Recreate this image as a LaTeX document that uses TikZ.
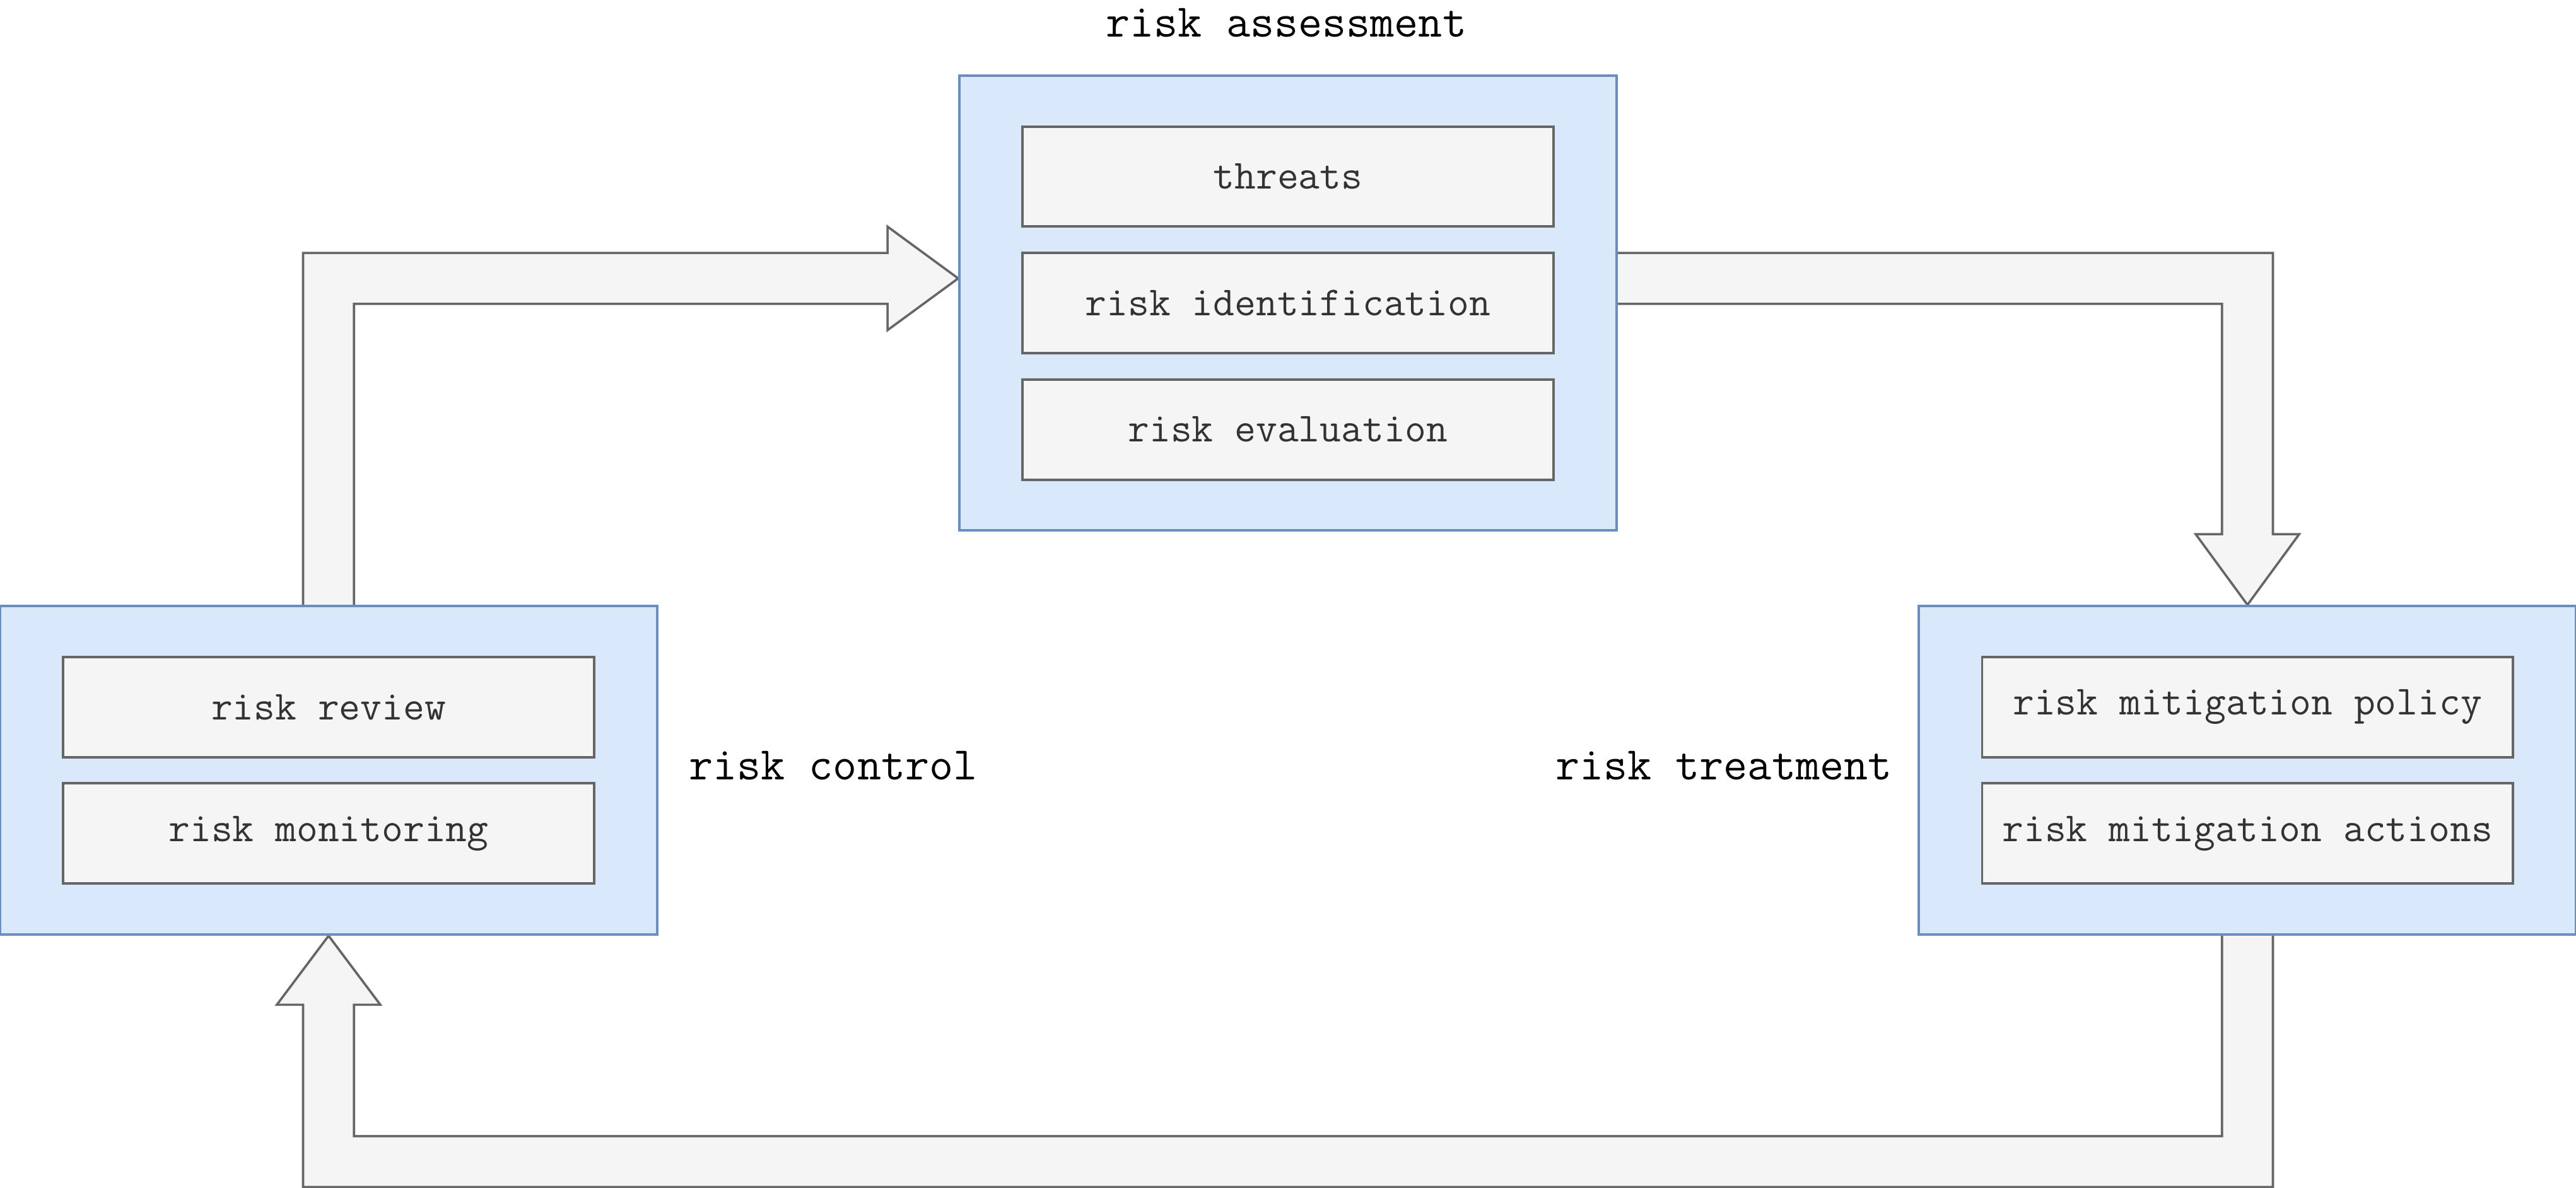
\documentclass[tikz,border=0pt]{standalone}
\usepackage{tikz}
\usetikzlibrary{calc,positioning,backgrounds}
\definecolor{groupfill}{HTML}{DAE8FC}
\definecolor{groupline}{HTML}{6C8EBF}
\definecolor{itemfill}{HTML}{F5F5F5}
\definecolor{itemline}{HTML}{666666}
\definecolor{itemtext}{HTML}{333333}
\tikzset{
  group/.style={draw=groupline, fill=groupfill, line width=0.75pt, minimum width=200pt, inner sep=0pt},
  item/.style={draw=itemline, fill=itemfill, line width=0.75pt, minimum width=161.5pt, minimum height=30.5pt, inner sep=0pt,
    text=itemtext, font=\ttfamily\fontsize{12.6}{14}\selectfont},
  grouplabel/.style={inner sep=0pt, font=\ttfamily\fontsize{14.2}{16}\selectfont},
  flow/.style={draw=itemline, fill=itemfill, line width=0.7pt, line join=miter}
}
\begin{document}
\begin{tikzpicture}[x=0.5pt, y=-0.5pt]
			%%%%% START %%%%%
			\useasboundingbox (0, 0) rectangle (1568, 723.3);
			
			\node[group, minimum height=138.5pt] (assess) at (784, 184.5) {};
			\node[item] (ident) at (assess) {risk identification};
			\node[item, above=7.25pt of ident] (threats) {threats};
			\node[item, below=7.25pt of ident] (eval) {risk evaluation};
			\node[grouplabel] (assesslabel) at (783, 14) {risk assessment};
			
			\node[group, minimum height=100pt] (control) at (200, 469) {};
			\node[item] (review) at ($(control)+(0, -38.5)$) {risk review};
			\node[item, below=7.25pt of review] (monitor) {risk monitoring};
			\node[grouplabel, anchor=west] (controllabel) at (419, 466) {risk control};
			
			\node[group, minimum height=100pt] (treat) at (1368, 469) {};
			\node[item] (policy) at ($(treat)+(0, -38.5)$) {risk mitigation policy};
			\node[item, below=7.25pt of policy] (actions) {risk mitigation actions};
			\node[grouplabel, anchor=east] (treatlabel) at (1152, 466) {risk treatment};
			
			\coordinate (a1s) at (control.north);
			\coordinate (a1e) at ($(assess.west)+(0, -15)$);
			\coordinate (a2s) at ($(assess.east)+(0, -15)$);
			\coordinate (a2e) at (treat.north);
			\coordinate (a3s) at (treat.south);
			\coordinate (a3e) at (control.south);
			
			\begin{scope}[on background layer]
			% control -> assessment
			\draw[flow] ($(a1s)+(-15.5, 0)$) -- ($(a1s |- a1e)+(-15.5, -15.5)$) -- ($(a1e)+(-43, -15.5)$)
				-- ($(a1e)+(-43, -31.5)$) -- (a1e) -- ($(a1e)+(-43, 31.5)$) -- ($(a1e)+(-43, 15.5)$)
				-- ($(a1s |- a1e)+(15.5, 15.5)$) -- ($(a1s)+(15.5, 0)$);
			
			% assessment -> treatment
			\draw[flow] ($(a2s)+(0, -15.5)$) -- ($(a2s -| a2e)+(15.5, -15.5)$) -- ($(a2e)+(15.5, -43)$)
				-- ($(a2e)+(31.5, -43)$) -- (a2e) -- ($(a2e)+(-31.5, -43)$) -- ($(a2e)+(-15.5, -43)$)
				-- ($(a2s -| a2e)+(-15.5, 15.5)$) -- ($(a2s)+(0, 15.5)$);
			
			% treatment -> control
			\draw[flow] ($(a3s)+(15.5, 0)$) -- ($(a3s)+(15.5, 153)$) -- ($(a3e)+(-15.5, 153)$)
				-- ($(a3e)+(-15.5, 42)$) -- ($(a3e)+(-31.5, 42)$) -- (a3e) -- ($(a3e)+(31.5, 42)$)
				-- ($(a3e)+(15.5, 42)$) -- ($(a3e)+(15.5, 122)$) -- ($(a3s)+(-15.5, 122)$) -- ($(a3s)+(-15.5, 0)$);
			\end{scope}
			%%%%% END %%%%%
\end{tikzpicture}
\end{document}
